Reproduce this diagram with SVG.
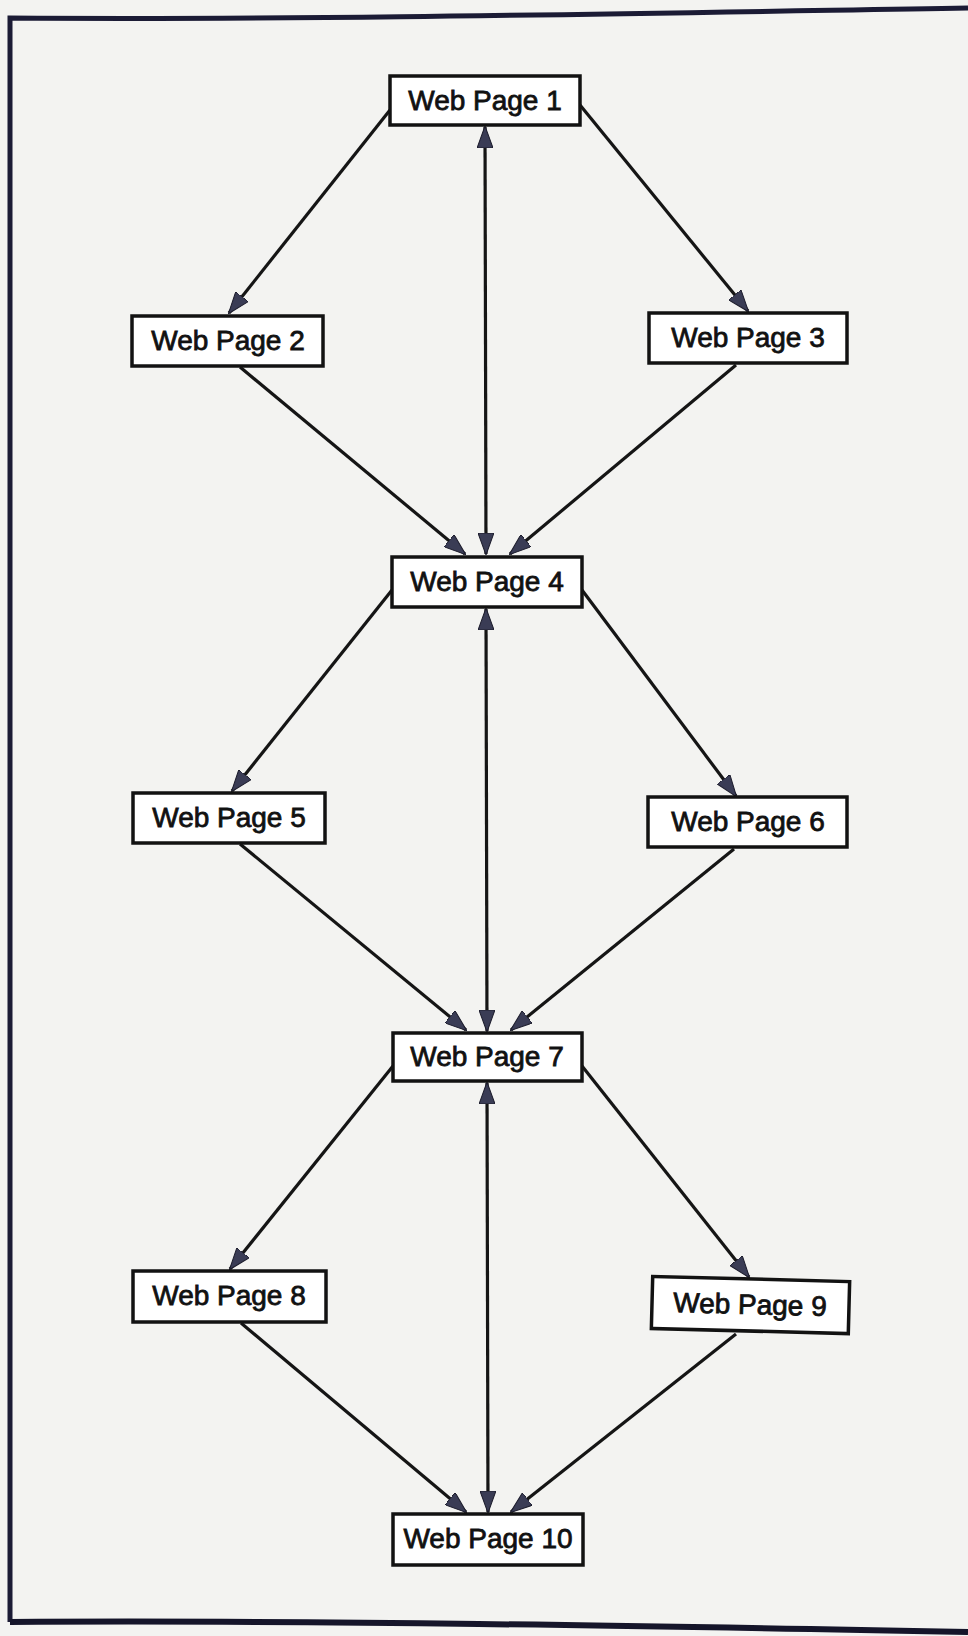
<svg xmlns="http://www.w3.org/2000/svg" width="968" height="1636" viewBox="0 0 968 1636">
  <defs>
    <style>
      .box { fill: #ffffff; stroke: #121212; stroke-width: 3.5; }
      .lbl { font-family: "Liberation Sans", Arial, sans-serif; font-size: 28px; fill: #111111; stroke: #111111; stroke-width: 0.8; text-anchor: middle; }
      .edge { fill: none; stroke: #151515; stroke-width: 3.2; }
      .one { marker-end: url(#head); }
      .two { marker-start: url(#head); marker-end: url(#head); }
    </style>
    <marker id="head" markerUnits="userSpaceOnUse" markerWidth="22" markerHeight="16" viewBox="0 0 22 16" refX="21" refY="8" orient="auto-start-reverse">
      <path d="M0,0 L22,8 L0,16 Z" fill="#3a3c55" stroke="#1c1c2c" stroke-width="1"/>
    </marker>
  </defs>

  <!-- paper -->
  <rect x="0" y="0" width="968" height="1636" fill="#f3f3f1"/>

  <!-- outer frame -->
  <path d="M10,1622 L10,18 C300,20 600,14 968,8" fill="none" stroke="#1b1b35" stroke-width="5"/>
  <path d="M10,1622 C300,1620 650,1626 968,1632" fill="none" stroke="#15152a" stroke-width="6"/>

  <!-- connectors -->
  <g id="connectors">
    <path class="edge one" d="M390,110 L229,313"/>
    <path class="edge one" d="M580,105 L748,311"/>
    <path class="edge two" d="M485,127 L486,554"/>
    <path class="edge one" d="M240,367 L465,554"/>
    <path class="edge one" d="M736,365 L510,554"/>

    <path class="edge one" d="M392,590 L232,791"/>
    <path class="edge one" d="M582,590 L736,796"/>
    <path class="edge two" d="M486,609 L487,1031"/>
    <path class="edge one" d="M240,844 L466,1030"/>
    <path class="edge one" d="M734,849 L511,1030"/>

    <path class="edge one" d="M393,1066 L230,1269"/>
    <path class="edge one" d="M582,1066 L749,1277"/>
    <path class="edge two" d="M487,1083 L488,1512"/>
    <path class="edge one" d="M241,1323 L466,1512"/>
    <path class="edge one" d="M736,1334 L511,1512"/>
  </g>

  <!-- pages -->
  <g id="page1">
    <rect class="box" x="390" y="76" width="190" height="49"/>
    <text class="lbl" x="485" y="110">Web Page 1</text>
  </g>
  <g id="page2">
    <rect class="box" x="132" y="316" width="191" height="50"/>
    <text class="lbl" x="228" y="350">Web Page 2</text>
  </g>
  <g id="page3">
    <rect class="box" x="649" y="313" width="198" height="50"/>
    <text class="lbl" x="748" y="347">Web Page 3</text>
  </g>
  <g id="page4">
    <rect class="box" x="392" y="557" width="190" height="50"/>
    <text class="lbl" x="487" y="591">Web Page 4</text>
  </g>
  <g id="page5">
    <rect class="box" x="133" y="793" width="192" height="50"/>
    <text class="lbl" x="229" y="827">Web Page 5</text>
  </g>
  <g id="page6">
    <rect class="box" x="648" y="797" width="199" height="50"/>
    <text class="lbl" x="748" y="831">Web Page 6</text>
  </g>
  <g id="page7">
    <rect class="box" x="393" y="1033" width="189" height="48"/>
    <text class="lbl" x="487" y="1066">Web Page 7</text>
  </g>
  <g id="page8">
    <rect class="box" x="133" y="1271" width="193" height="51"/>
    <text class="lbl" x="229" y="1305">Web Page 8</text>
  </g>
  <g id="page9" transform="rotate(1.5 750 1305)">
    <rect class="box" x="652" y="1279" width="197" height="52"/>
    <text class="lbl" x="750" y="1314">Web Page 9</text>
  </g>
  <g id="page10">
    <rect class="box" x="393" y="1514" width="190" height="51"/>
    <text class="lbl" x="488" y="1548">Web Page 10</text>
  </g>
</svg>
